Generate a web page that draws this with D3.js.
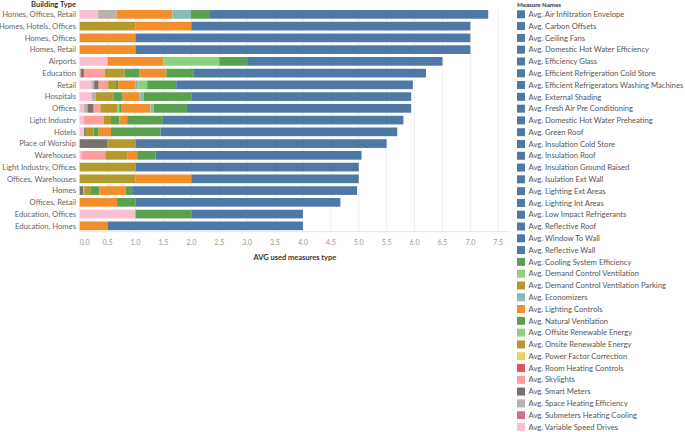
<!DOCTYPE html>
<html><head><meta charset="utf-8">
<script src="https://cdn.jsdelivr.net/npm/d3@7"></script>
<style>
html,body{margin:0;padding:0;background:#fff;}
svg{display:block;font-family:Lato,"Open Sans",sans-serif;}
</style></head>
<body><svg id="chart" width="685" height="432"></svg>
<script>
// ---- data ----
const categories = ["Homes, Offices, Retail","Homes, Hotels, Offices","Homes, Offices","Homes, Retail","Airports","Education","Retail","Hospitals","Offices","Light Industry","Hotels","Place of Worship","Warehouses","Light Industry, Offices","Offices, Warehouses","Homes","Offices, Retail","Education, Offices","Education, Homes"];

// non-blue measures (left to right stacking order), one value per category
const variableSpeedDrives      = [0.33,0,0,0,0.5,0,0.21,0.22,0.08,0.07,0.08,0,0.03,0,0,0,0,1,0];
const submetersHeatingCooling  = [0,0,0,0,0,0,0,0,0,0,0,0,0,0,0,0,0,0,0];
const spaceHeatingEfficiency   = [0.33,0,0,0,0,0.025,0.05,0.07,0.06,0,0,0,0,0,0,0,0,0,0];
const smartMeters              = [0,0,0,0,0,0.05,0.08,0,0.11,0,0.03,0.5,0,0,0,0.06,0,0,0];
const skylights                = [0,0,0,0,0,0.37,0.17,0,0.12,0.36,0,0,0.43,0,0,0.02,0,0,0];
const roomHeatingControls      = [0,0,0,0,0,0,0,0,0,0,0,0,0,0,0,0,0,0,0];
const powerFactorCorrection    = [0,0,0,0,0,0,0,0,0,0,0,0,0,0,0,0,0,0,0];
const onsiteRenewableEnergy    = [0,1,0,0,0,0.36,0.14,0.32,0.30,0.13,0.14,0.5,0.39,1,1,0.12,0,0,0];
const offsiteRenewableEnergy   = [0,0,0,0,0,0,0,0,0.04,0,0,0,0,0,0,0,0,0,0];
const naturalVentilation       = [0,0,0,0,0,0.27,0.04,0.16,0.03,0.15,0.09,0,0,0,0,0.15,0,0,0];
const lightingControls         = [1,1,1,1,1,0.48,0.31,0.30,0.53,0.14,0.22,0,0.18,0,1,0.47,0.67,0,0.5];
const economizers              = [0.33,0,0,0,0,0,0.05,0.08,0.06,0,0,0,0,0,0,0,0,0,0];
const demandControlVentParking = [0,0,0,0,0,0,0,0,0,0,0,0,0,0,0,0,0,0,0];
const demandControlVentilation = [0,0,0,0,1,0,0.16,0,0,0,0,0,0,0,0,0,0,0,0];
const coolingSystemEfficiency  = [0.33,0,0,0,0.5,0.48,0.52,0.85,0.59,0.64,0.89,0,0.33,0,0,0.12,0.33,1,0];
// combined total of the 21 measures that share the blue colour
const blueMeasures             = [5,5,6,6,3.5,4.17,4.24,3.94,4.02,4.31,4.24,4.5,3.69,4,3,4.03,3.67,2,3.5];

const xTicks = [0,0.5,1,1.5,2,2.5,3,3.5,4,4.5,5,5.5,6,6.5,7,7.5];

const legendNames = ["Avg. Air Infiltration Envelope","Avg. Carbon Offsets","Avg. Ceiling Fans","Avg. Domestic Hot Water Efficiency","Avg. Efficiency Glass","Avg. Efficient Refrigeration Cold Store","Avg. Efficient Refrigerators Washing Machines","Avg. External Shading","Avg. Fresh Air Pre Conditioning","Avg. Domestic Hot Water Preheating","Avg. Green Roof","Avg. Insulation Cold Store","Avg. Insulation Roof","Avg. Insulation Ground Raised","Avg. Isulation Ext Wall","Avg. Lighting Ext Areas","Avg. Lighting Int Areas","Avg. Low Impact Refrigerants","Avg. Reflective Roof","Avg. Window To Wall","Avg. Reflective Wall","Avg. Cooling System Efficiency","Avg. Demand Control Ventilation","Avg. Demand Control Ventilation Parking","Avg. Economizers","Avg. Lighting Controls","Avg. Natural Ventilation","Avg. Offsite Renewable Energy","Avg. Onsite Renewable Energy","Avg. Power Factor Correction","Avg. Room Heating Controls","Avg. Skylights","Avg. Smart Meters","Avg. Space Heating Efficiency","Avg. Submeters Heating Cooling","Avg. Variable Speed Drives"];
const legendColors = Array(21).fill("#4e79a7").concat(["#59a14f","#8cd17d","#b6992d","#86bcb6","#f28e2b","#59a14f","#8cd17d","#b6992d","#f1ce63","#e15759","#ff9d9a","#79706e","#bab0ac","#d37295","#fabfd2"]);

// stack (series, colour) pairs
const stackSeries = [
  [variableSpeedDrives,"#fabfd2"],[submetersHeatingCooling,"#d37295"],[spaceHeatingEfficiency,"#bab0ac"],
  [smartMeters,"#79706e"],[skylights,"#ff9d9a"],[roomHeatingControls,"#e15759"],[powerFactorCorrection,"#f1ce63"],
  [onsiteRenewableEnergy,"#b6992d"],[offsiteRenewableEnergy,"#8cd17d"],[naturalVentilation,"#59a14f"],
  [lightingControls,"#f28e2b"],[economizers,"#86bcb6"],[demandControlVentParking,"#b6992d"],
  [demandControlVentilation,"#8cd17d"],[coolingSystemEfficiency,"#59a14f"],[blueMeasures,"#4e79a7"]
];

// ---- chart ----
const svg = d3.select("#chart");
const x = d3.scaleLinear().domain([0,7.71]).range([79.7,510]);
const y = d3.scaleBand().domain(categories).range([8.5,231.7]).paddingInner(0.26).paddingOuter(0.13);

// helper: font size so a reference string gets a given width
function fitSize(str, targetW, weight){
  const t = svg.append("text").attr("font-size",10).attr("font-weight",weight||"normal").text(str);
  const w = t.node().getComputedTextLength(); t.remove();
  return 10*targetW/w;
}
const labelFS  = fitSize("Homes, Offices, Retail",74);
const legendFS = fitSize("Avg. Efficient Refrigerators Washing Machines",155);
const tickFS   = fitSize("0.0",10);
const titleFS  = fitSize("AVG used measures type",83,"bold");
const headFS   = fitSize("Building Type",45,"bold");
const lheadFS  = fitSize("Measure Names",44,"bold");

const table = categories.map((c,i)=>{const o={cat:c}; stackSeries.forEach((s,k)=>o["s"+k]=s[0][i]); return o;});
const keys = stackSeries.map((s,k)=>"s"+k);
const stacked = d3.stack().keys(keys)(table);

// gridlines
svg.append("g").selectAll("line").data(xTicks).join("line")
  .attr("x1",d=>x(d)).attr("x2",d=>x(d)).attr("y1",8.5).attr("y2",231.7)
  .attr("stroke","#eeeeee").attr("stroke-width",1);
svg.append("line").attr("x1",79.7).attr("x2",510).attr("y1",231.7).attr("y2",231.7).attr("stroke","#e6e6e6");

// bars
svg.append("g").selectAll("g").data(stacked).join("g")
  .attr("fill",(d,k)=>stackSeries[k][1])
  .selectAll("rect").data(d=>d.filter(p=>p[1]-p[0]>0)).join("rect")
  .attr("x",p=>x(p[0])).attr("width",p=>x(p[1])-x(p[0]))
  .attr("y",p=>y(p.data.cat)).attr("height",y.bandwidth());

// y labels
svg.append("g").selectAll("text").data(categories).join("text")
  .attr("x",76).attr("y",d=>y(d)+y.bandwidth()/2).attr("dy","0.35em")
  .attr("text-anchor","end").attr("font-size",labelFS).attr("fill","#666").text(d=>d);
svg.append("text").attr("x",76).attr("y",7).attr("text-anchor","end")
  .attr("font-size",headFS).attr("font-weight","bold").attr("fill","#333").text("Building Type");

// x axis labels
svg.append("g").selectAll("text").data(xTicks).join("text")
  .attr("x",d=>x(d)).attr("y",245)
  .attr("text-anchor",d=>d===0?"start":"middle")
  .attr("font-size",tickFS).attr("fill","#999").text(d=>d.toFixed(1));
svg.append("text").attr("x",(79.7+510)/2).attr("y",260).attr("text-anchor","middle")
  .attr("font-size",titleFS).attr("font-weight","bold").attr("fill","#333").text("AVG used measures type");

// legend
svg.append("text").attr("x",517).attr("y",7).attr("font-size",lheadFS).attr("font-weight","bold").attr("fill","#333").text("Measure Names");
const lg = svg.append("g").selectAll("g").data(legendNames).join("g")
  .attr("transform",(d,i)=>`translate(517,${14.3+i*11.79})`);
lg.append("rect").attr("x",0).attr("y",-4).attr("width",8).attr("height",8).attr("fill",(d,i)=>legendColors[i]);
lg.append("text").attr("x",11.5).attr("dy","0.35em").attr("font-size",legendFS).attr("fill","#555").text(d=>d);
</script></body></html>
